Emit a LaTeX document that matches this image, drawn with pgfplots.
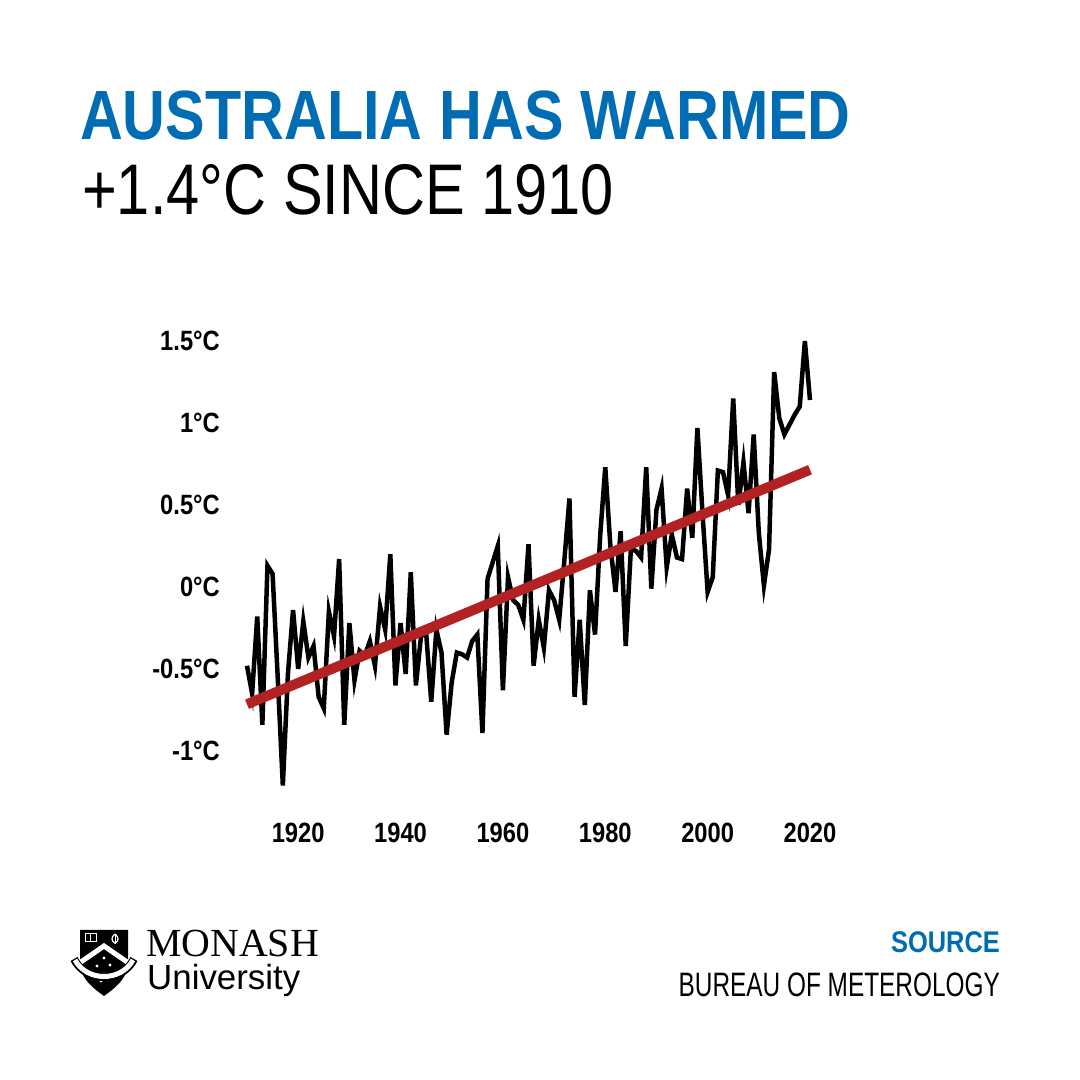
\documentclass[border=0pt]{standalone}
\usepackage{fontspec}
\setmainfont{Liberation Sans}
\newfontfamily\condfont[FakeStretch=0.85]{Liberation Sans}
\newfontfamily\subfont[FakeStretch=0.83]{Liberation Sans}
\newfontfamily\srcfont[FakeStretch=0.72]{Liberation Sans}
\newfontfamily\seriffont{Liberation Serif}
\usepackage{pgfplots}
\pgfplotsset{compat=1.18}
\definecolor{monblue}{RGB}{0,108,179}
\definecolor{trendred}{RGB}{178,34,34}

% annual mean temperature anomaly, Australia (degC)
\pgfplotstableread{
year anom
1910 -0.48
1911 -0.65
1912 -0.18
1913 -0.84
1914 0.13
1915 0.08
1916 -0.55
1917 -1.21
1918 -0.53
1919 -0.14
1920 -0.50
1921 -0.21
1922 -0.43
1923 -0.36
1924 -0.67
1925 -0.74
1926 -0.15
1927 -0.30
1928 0.17
1929 -0.84
1930 -0.22
1931 -0.57
1932 -0.39
1933 -0.42
1934 -0.33
1935 -0.48
1936 -0.12
1937 -0.26
1938 0.20
1939 -0.60
1940 -0.22
1941 -0.53
1942 0.09
1943 -0.60
1944 -0.30
1945 -0.28
1946 -0.70
1947 -0.26
1948 -0.40
1949 -0.90
1950 -0.58
1951 -0.40
1952 -0.41
1953 -0.43
1954 -0.33
1955 -0.29
1956 -0.89
1957 0.05
1958 0.15
1959 0.25
1960 -0.63
1961 0.06
1962 -0.08
1963 -0.11
1964 -0.20
1965 0.26
1966 -0.48
1967 -0.20
1968 -0.37
1969 -0.02
1970 -0.08
1971 -0.20
1972 0.16
1973 0.54
1974 -0.67
1975 -0.20
1976 -0.72
1977 -0.02
1978 -0.29
1979 0.31
1980 0.73
1981 0.25
1982 -0.03
1983 0.34
1984 -0.36
1985 0.23
1986 0.22
1987 0.18
1988 0.73
1989 -0.01
1990 0.47
1991 0.60
1992 0.12
1993 0.32
1994 0.18
1995 0.17
1996 0.60
1997 0.30
1998 0.97
1999 0.45
2000 -0.03
2001 0.06
2002 0.71
2003 0.70
2004 0.56
2005 1.15
2006 0.50
2007 0.76
2008 0.45
2009 0.93
2010 0.33
2011 0.01
2012 0.23
2013 1.31
2014 1.03
2015 0.93
2016 0.99
2017 1.05
2018 1.10
2019 1.50
2020 1.14
}\anomtable

\begin{document}
\begin{tikzpicture}[x=1bp,y=1bp]
\path[use as bounding box, fill=white] (0,0) rectangle (1080,1080);

% titles
\node[anchor=base west, inner sep=0pt, text=monblue,
  font=\condfont\bfseries\fontsize{70}{70}\selectfont] at (80,940) {AUSTRALIA HAS WARMED};
\node[anchor=base west, inner sep=0pt,
  font=\subfont\fontsize{72}{72}\selectfont] at (82,865) {+1.4°C SINCE 1910};

\begin{axis}[
  at={(247bp,279.8bp)}, anchor=south west,
  x=5.118bp, y=164bp,
  xmin=1910, xmax=2020, ymin=-1.3, ymax=1.6,
  axis line style={draw=none}, tick style={draw=none}, major tick length=0pt,
  xtick={1920,1940,1960,1980,2000,2020},
  xticklabels={1920,1940,1960,1980,2000,2020},
  ytick={-1,-0.5,0,0.5,1,1.5},
  yticklabels={-1°C,-0.5°C,0°C,0.5°C,1°C,1.5°C},
  tick label style={font=\condfont\bfseries\fontsize{28}{28}\selectfont, inner sep=0pt},
  yticklabel style={anchor=east, xshift=-27bp},
  xticklabel style={anchor=north, yshift=-23bp},
  clip=false,
]
\addplot[black, line width=4.5bp, no marks] table[x=year, y=anom] {\anomtable};
\addplot[trendred, line width=10bp, no marks] coordinates {(1910,-0.715) (2020,0.715)};
\end{axis}

% source
\node[anchor=base east, inner sep=0pt, text=monblue,
  font=\condfont\bfseries\fontsize{30}{30}\selectfont] at (1000,127) {SOURCE};
\node[anchor=base east, inner sep=0pt,
  font=\srcfont\fontsize{34}{34}\selectfont] at (1000,83) {BUREAU OF METEROLOGY};

% Monash logo
\begin{scope}
  \fill[black] (80,150) -- (128,150) -- (128,118) .. controls (128,100) and (112,90) .. (104,84)
     .. controls (96,90) and (80,100) .. (80,118) -- cycle;
  \begin{scope}
    \clip (80,150) -- (128,150) -- (128,118) .. controls (128,100) and (112,90) .. (104,84)
       .. controls (96,90) and (80,100) .. (80,118) -- cycle;
    \draw[white, line width=5bp] (78,116) -- (104,134) -- (130,116);
  \end{scope}
  % book
  \draw[white, line width=1bp] (85,146) -- (85,138) -- (96,138) -- (96,146) -- cycle (90.5,146) -- (90.5,138);
  % torch
  \draw[white, line width=1.2bp] (115,146) .. controls (111,143) and (111,139) .. (115,137) .. controls (119,139) and (119,143) .. (115,146);
  \draw[white, line width=1bp] (115,146) -- (115,136);
  % southern cross
  \foreach \p in {(104,122),(97,114),(110,115),(104,106),(101,99)}
    \fill[white] \p circle (1.6);
  % scroll
  \draw[black, line width=8bp] (74,121) .. controls (86,97) and (122,97) .. (134,121);
  \draw[white, line width=5bp] (75,120) .. controls (87,98) and (121,98) .. (133,120);
\end{scope}
\node[anchor=base west, inner sep=0pt, font=\seriffont\fontsize{40}{40}\selectfont] at (146,123) {MONASH};
\node[anchor=base west, inner sep=0pt, font=\fontsize{35}{35}\selectfont] at (147,90) {University};
\end{tikzpicture}
\end{document}
